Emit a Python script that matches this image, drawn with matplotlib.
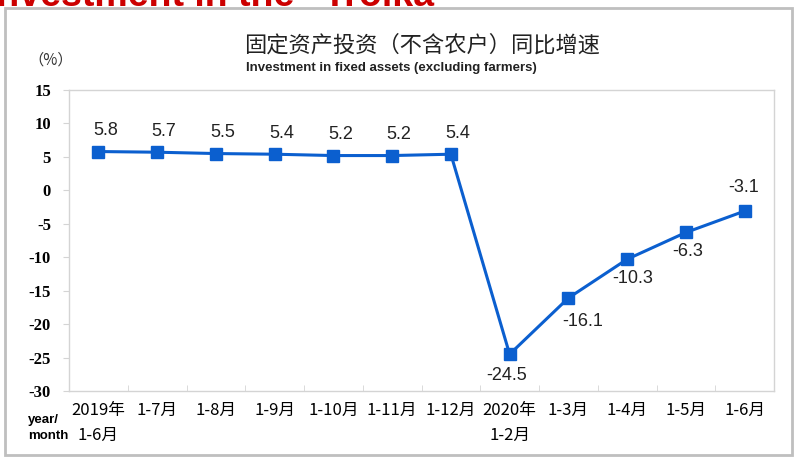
import matplotlib
matplotlib.use('Agg')
import matplotlib.pyplot as plt
from matplotlib.patches import Rectangle

plt.rcParams['font.family'] = ['Noto Sans CJK SC', 'DejaVu Sans']

# Data
periods = ['2019年\n1-6月', '1-7月', '1-8月', '1-9月', '1-10月', '1-11月', '1-12月',
           '2020年\n1-2月', '1-3月', '1-4月', '1-5月', '1-6月']
growth = [5.8, 5.7, 5.5, 5.4, 5.2, 5.2, 5.4, -24.5, -16.1, -10.3, -6.3, -3.1]
yticks = [15, 10, 5, 0, -5, -10, -15, -20, -25, -30]
# label offsets in points (dx, dy)
label_offsets = [(5, 15)] * 7 + [(-2, -15), (10, -17), (4, -14), (1, -14), (-1, 17)]

line_color = '#0b5fcf'
box_color = '#d4d4d4'

fig = plt.figure(figsize=(7.96, 4.59), dpi=100)
ax = fig.add_axes([69 / 796, 1 - 391 / 459, 705 / 796, 301 / 459])

x = list(range(len(growth)))
ax.plot(x, growth, color=line_color, lw=2.2, marker='s', ms=8.5,
        mfc=line_color, mec=line_color, zorder=3)

for xi, v, (dx, dy) in zip(x, growth, label_offsets):
    ax.annotate('{:.1f}'.format(v), (xi, v), xytext=(dx, dy),
                textcoords='offset points', ha='center', va='center',
                fontsize=13, family='Liberation Sans', color='#222222')

ax.set_xlim(-0.5, len(growth) - 0.5)
ax.set_ylim(-30, 15)
ax.set_yticks(yticks)
ax.set_yticklabels([str(t) for t in yticks], family='Liberation Serif',
                   fontweight='bold', fontsize=12)
ax.set_xticks(x)
ax.set_xticklabels(periods, fontsize=12, linespacing=1.6, va='top')
ax.set_xticks([i + 0.5 for i in range(len(growth) - 1)], minor=True)

ax.tick_params(axis='x', which='major', length=0, pad=8)
ax.tick_params(axis='x', which='minor', direction='in', length=4, color=box_color)
ax.tick_params(axis='y', direction='out', length=4, color=box_color, pad=9)

for s in ax.spines.values():
    s.set_color(box_color)
    s.set_linewidth(1.0)

# Titles and side texts
fig.text(422 / 796, 1 - 45 / 459, '固定资产投资（不含农户）同比增速', ha='center',
         va='center', fontsize=16, color='#222222')
fig.text(391 / 796, 1 - 68 / 459, 'Investment in fixed assets (excluding farmers)',
         ha='center', va='center', fontsize=9.5, fontweight='bold',
         family='Liberation Sans', color='#222222')
fig.text(51 / 796, 1 - 60 / 459, '（%）', ha='center', va='center', fontsize=11,
         color='#333333')
fig.text(28 / 796, 1 - 428 / 459, 'year/\nmonth', ha='left', va='center',
         fontsize=9.5, fontweight='bold', family='Liberation Sans', linespacing=1.45)

# outer frame and cropped heading
fig.patches.append(Rectangle((5 / 796, 1 - 455 / 459), 787 / 796, 447 / 459,
                             transform=fig.transFigure, fill=False,
                             edgecolor='#bfbfbf', lw=2))
fig.text(-14 / 796, 1 - 6 / 459, 'Investment in the \u201cTroika\u201d', ha='left',
         va='baseline', fontsize=27, fontweight='bold', family='Liberation Sans',
         color='#cc0000')

fig.savefig('out.png', dpi=100)
